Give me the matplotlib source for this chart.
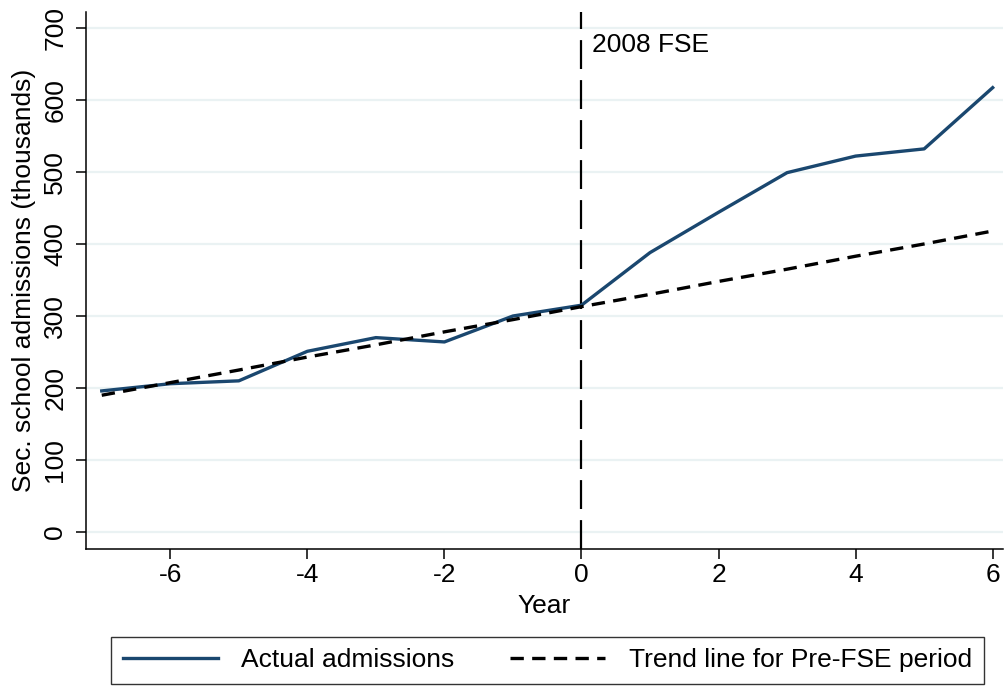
import matplotlib
matplotlib.use("Agg")
import matplotlib.pyplot as plt

plt.rcParams['font.family'] = ['Liberation Sans', 'DejaVu Sans']

years = [-7, -6, -5, -4, -3, -2, -1, 0, 1, 2, 3, 4, 5, 6]
actual = [196, 206, 210, 251, 270, 264, 300, 315, 388, 444, 499, 522, 532, 617]
trend = [190, 207.5, 225, 243, 260, 278, 295, 313, 330, 348, 365, 383, 400, 418]
xticks = [-6, -4, -2, 0, 2, 4, 6]
yticks = [0, 100, 200, 300, 400, 500, 600, 700]

fig = plt.figure(figsize=(10.08, 6.87), dpi=100)
ax = fig.add_axes([0.0853, 0.2003, 0.9097, 0.7822])

navy = '#1A476F'
FS = 19
for y in yticks:
    ax.axhline(y, color='#EAF2F3', lw=1.6, zorder=0)

l1, = ax.plot(years, actual, color=navy, lw=2.4, label='Actual admissions', zorder=3)
l2, = ax.plot(years, trend, color='black', lw=2.4, dashes=(4, 2.5),
              label='Trend line for Pre-FSE period', zorder=4)
ax.axvline(0, color='black', lw=1.6, dashes=(13, 5), zorder=2)
ax.text(0.16, 676, '2008 FSE', fontsize=FS, va='center', ha='left')

ax.set_xlim(-7.23, 6.15)
ax.set_ylim(-24, 722)
ax.set_xticks(xticks)
ax.set_xticklabels([str(v) for v in xticks])
ax.set_yticks(yticks)
ax.set_yticklabels([str(v) for v in yticks], rotation=90, va='center')
ax.tick_params(axis='both', direction='out', length=7, width=1.1, labelsize=FS, color='black')
ax.tick_params(axis='x', pad=3)
ax.tick_params(axis='y', pad=6.5)
for s in ['top', 'right']:
    ax.spines[s].set_visible(False)
for s in ['left', 'bottom']:
    ax.spines[s].set_linewidth(1.1)
ax.set_xlabel('Year', fontsize=FS, labelpad=5)
ax.set_ylabel('Sec. school admissions (thousands)', fontsize=FS, labelpad=5)

leg = fig.legend(handles=[l1, l2], loc='center', bbox_to_anchor=(0.543, 0.0386), ncol=2,
                 fontsize=FS, frameon=True, fancybox=False, handlelength=3.6,
                 columnspacing=2.1, borderpad=0.45, handletextpad=0.9, borderaxespad=0)
leg.get_frame().set_edgecolor('black')
leg.get_frame().set_linewidth(1.0)

fig.savefig('out.png', dpi=100)
